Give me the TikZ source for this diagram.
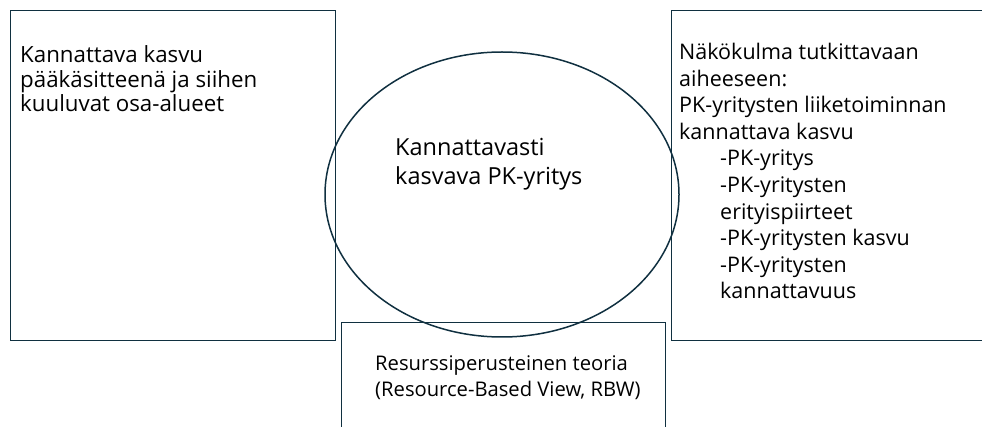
\documentclass[tikz,border=0pt]{standalone}
\usepackage{fontspec}
\setmainfont{Open Sans}
\definecolor{edge}{RGB}{16,48,64}
\tikzset{
  boxline/.style={draw=edge, line width=1pt},
  ringline/.style={draw=edge, line width=1.5pt},
  txt/.style={anchor=base west, inner sep=0pt, align=left}
}
\begin{document}
\begin{tikzpicture}[x=1pt,y=-1pt]
\useasboundingbox (0,0) rectangle (982,427);
\begin{scope}
\clip (0,0) rectangle (982,427);
\draw[boxline] (10,11) rectangle (335,341);
\draw[boxline] (990,11) -- (671,11) -- (671,341) -- (990,341);
\draw[boxline] (341,435) -- (341,323) -- (665,323) -- (665,435);
\draw[ringline] (502,194.5) ellipse [x radius=177, y radius=142.5];
\end{scope}
\node[txt, font=\fontsize{22.3}{24.5}\selectfont] (left) at (20,112) {Kannattava kasvu\\pääkäsitteenä ja siihen\\kuuluvat osa-alueet};
\node[txt, font=\fontsize{23.5}{29}\selectfont] (mid) at (395,185) {Kannattavasti\\kasvava PK-yritys};
\node[txt, font=\fontsize{21.5}{26.6}\selectfont] (right) at (679,299) {Näkökulma tutkittavaan\\aiheeseen:\\PK-yritysten liiketoiminnan\\kannattava kasvu\\\hspace*{41pt}-PK-yritys\\\hspace*{41pt}-PK-yritysten\\\hspace*{41pt}erityispiirteet\\\hspace*{41pt}-PK-yritysten kasvu\\\hspace*{41pt}-PK-yritysten\\\hspace*{41pt}kannattavuus};
\node[txt, font=\fontsize{20.2}{26}\selectfont] (bottom) at (375,396) {Resurssiperusteinen teoria\\(Resource-Based View, RBW)};
\end{tikzpicture}
\end{document}
